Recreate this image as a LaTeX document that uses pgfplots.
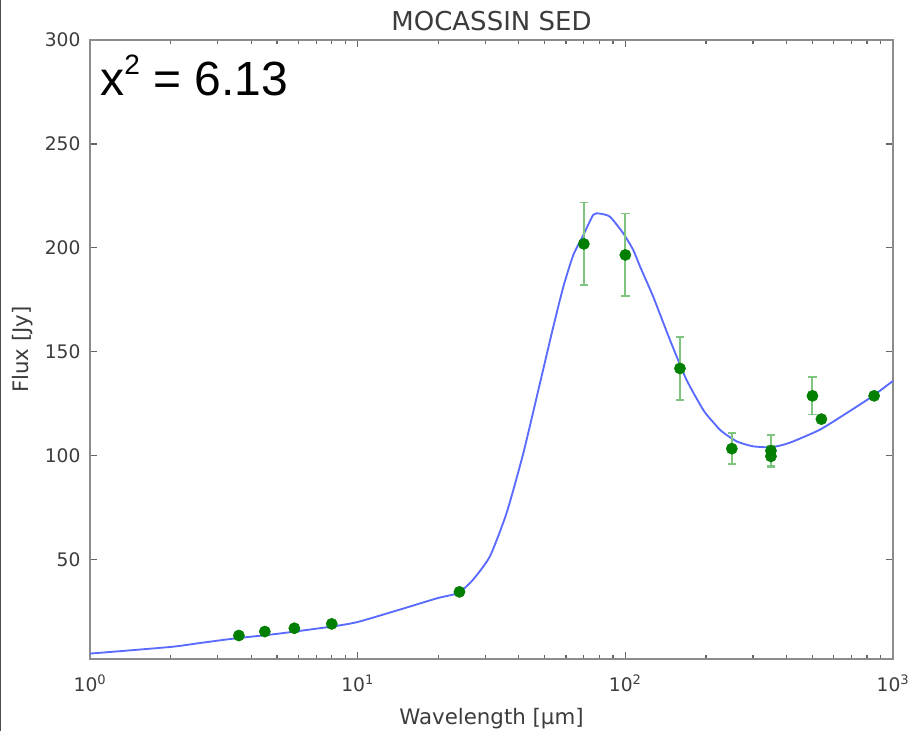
\documentclass[border=0pt]{standalone}
\usepackage{fontspec}
\setmainfont{DejaVu Sans}
\newfontfamily\arial{Liberation Sans}
\usepackage{pgfplots}
\pgfplotsset{compat=1.18}
\definecolor{sedblue}{HTML}{5B6BFF}
\definecolor{ptgreen}{HTML}{007F00}
\definecolor{errgreen}{HTML}{7FC47F}
\definecolor{txtgray}{HTML}{3C3C3C}
\definecolor{framegray}{HTML}{8C8C8C}

\begin{document}
\begin{tikzpicture}
\begin{axis}[
    name=ax,
    scale only axis, width=602.25pt, height=464.25pt,
    xmode=log, xmin=1, xmax=1000, ymin=2.2, ymax=300,
    xtick={1,10,100,1000},
    xticklabels={10\textsuperscript{0},10\textsuperscript{1},10\textsuperscript{2},10\textsuperscript{3}},
    minor xtick={2,3,4,5,6,7,8,9,20,30,40,50,60,70,80,90,200,300,400,500,600,700,800,900},
    ytick={50,100,150,200,250,300},
    yticklabels={50,100,150,200,250,300},
    tick label style={font=\fontsize{14}{16}\selectfont, text=txtgray},
    xticklabel style={anchor=base, yshift=-24.5pt, inner sep=0pt},
    yticklabel style={anchor=east, xshift=-7pt, inner sep=0pt},
    major tick length=5pt, minor tick length=3pt,
    tick style={black!60, line width=0.9pt},
    axis line style={framegray, line width=1.3pt},
    title={MOCASSIN SED},
    title style={at={(axis description cs:0.5,1.003)}, anchor=base,
                 font=\fontsize{19.5}{22}\selectfont, text=txtgray, inner sep=0pt},
    xlabel={Wavelength [μm]},
    xlabel style={at={(axis description cs:0.5,-0.1066)}, anchor=base,
                  font=\fontsize{16}{18}\selectfont, text=txtgray, inner sep=0pt},
    ylabel={Flux [Jy]},
    ylabel style={at={(axis description cs:-0.0772,0.5)}, anchor=base,
                  font=\fontsize{16}{18}\selectfont, text=txtgray, inner sep=0pt},
    clip=false,
]
% model SED
\addplot[sedblue, line width=1.4pt, no marks, smooth, tension=0.35] coordinates {
    (1,4.8) (2,8.0) (2.58,9.9) (3.43,12.0) (5,14.3) (8.1,17.9) (10,20.0)
    (14.4,26.0) (19.9,31.5) (23.8,34.0) (27,40.4) (31.2,51.6) (36,72.4)
    (41.6,101.3) (48,135) (53.8,162) (58.7,181.4) (63.9,196.5) (69.6,206)
    (75.9,215.9) (80,216.5) (87.6,215) (98.2,207) (107,199) (113.5,191)
    (127,176.6) (146.7,155.8) (169.3,136.5) (195.5,122) (210,117)
    (225.6,112.5) (240,109.8) (260.6,106.9) (280,105.5) (300.6,104.5)
    (330,104.1) (357,104.2) (390,105.3) (424,106.9) (533,112.5)
    (671,120.5) (836,128.5) (1000,136)
};
% error bars
\addplot[draw=none, no marks, forget plot,
    error bars/.cd, y dir=both, y explicit,
    error bar style={errgreen, line width=1.6pt},
    error mark options={rotate=90, errgreen, mark size=3.2pt, line width=1.4pt}]
    coordinates {
    (70,201.9) +- (0,19.9)
    (100,196.6) +- (0,19.9)
    (160,142) +- (0,15)
    (250,103.4) +- (0,7.4)
    (350,102.4) +- (0,7.4)
    (350,99.7) +- (0,5)
    (500,128.8) +- (0,9)
};
% photometry
\addplot[only marks, mark=*, mark size=4.2pt, ptgreen, mark options={draw=ptgreen, fill=ptgreen}]
    coordinates {
    (3.6,13.5) (4.5,15.4) (5.8,17.0) (8.0,19.1) (24,34.5)
    (70,201.9) (100,196.6) (160,142) (250,103.4) (350,102.4) (350,99.7)
    (500,128.8) (540,117.6) (850,128.8)
};
\node[anchor=base west, inner sep=0pt, font=\arial\fontsize{36}{40}\selectfont]
    at (axis description cs:0.01245,0.911)
    {x\raisebox{0.42em}{\fontsize{21}{21}\selectfont 2} = 6.13};
\end{axis}
\pgfresetboundingbox
\path[use as bounding box] ([xshift=-67.5pt,yshift=-54pt]ax.south west)
    rectangle ([xshift=616.5pt,yshift=494.25pt]ax.south west);
\draw[black!70, line width=1pt] ([xshift=-66.9pt,yshift=-54pt]ax.south west)
    -- ++(0,548.25pt);
\end{tikzpicture}
\end{document}
